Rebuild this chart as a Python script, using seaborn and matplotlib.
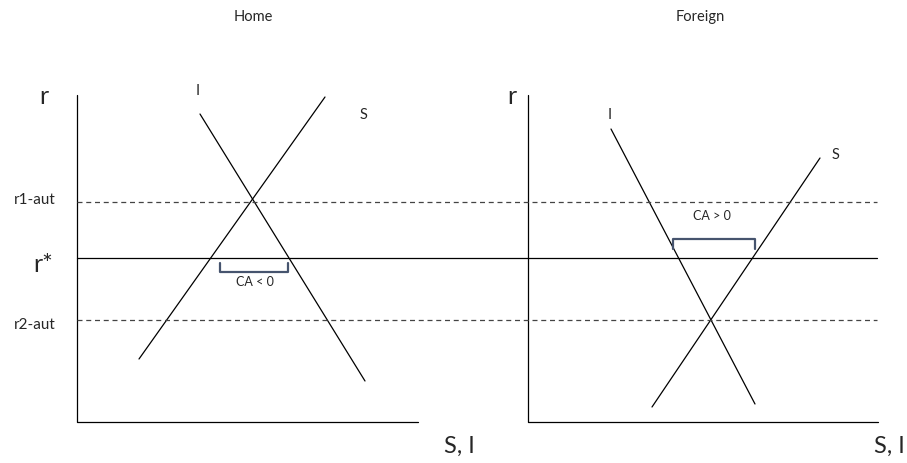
import numpy as np
import pandas as pd
import matplotlib
matplotlib.use("Agg")
import matplotlib.pyplot as plt
import seaborn as sns

# diagram coordinates (pixel space of the original picture, y grows downward)
home_axis_x = [77, 77, 418]
home_axis_y = [95, 422, 422]
foreign_axis_x = [528, 528, 878]
foreign_axis_y = [95, 422, 422]

rate_x = [77, 877]
r1_aut = 202
r_star = 258
r2_aut = 320

home_I_x = [200, 365]
home_I_y = [114, 381]
home_S_x = [139, 325]
home_S_y = [359, 97]
foreign_I_x = [611, 755]
foreign_I_y = [129, 404]
foreign_S_x = [652, 820]
foreign_S_y = [407, 158]

# CA brackets: x-span, base y, tip y
home_ca_x = [220, 288]
home_ca_y = [263, 272]
foreign_ca_x = [673, 755]
foreign_ca_y = [249, 239]

sns.set_theme(style="white")
plt.rcParams["font.family"] = ["Lato", "DejaVu Sans"]

fig = plt.figure(figsize=(9.07, 4.63), dpi=100)
ax = fig.add_axes([0, 0, 1, 1])
ax.set_xlim(0, 907)
ax.set_ylim(463, 0)
ax.axis("off")

lw = 0.9
for xs, ys in [(home_axis_x, home_axis_y), (foreign_axis_x, foreign_axis_y),
               (home_I_x, home_I_y), (home_S_x, home_S_y),
               (foreign_I_x, foreign_I_y), (foreign_S_x, foreign_S_y),
               (rate_x, [r_star, r_star])]:
    sns.lineplot(x=xs, y=ys, ax=ax, color="black", lw=lw, sort=False, estimator=None)

for yv in [r1_aut, r2_aut]:
    sns.lineplot(x=rate_x, y=[yv, yv], ax=ax, color="#444444", lw=lw,
                 sort=False, estimator=None, linestyle=(0, (4, 3)))

# brackets
br_col = "#46546e"
for (x0, x1), (yb, yt) in [(home_ca_x, home_ca_y), (foreign_ca_x, foreign_ca_y)]:
    sns.lineplot(x=[x0, x0, x1, x1], y=[yb, yt, yt, yb], ax=ax, color=br_col,
                 lw=1.6, sort=False, estimator=None)

ax.text(255, 282, "CA < 0", fontsize=9, ha="center", va="center")
ax.text(712, 216, "CA > 0", fontsize=9, ha="center", va="center")

# titles and labels
ax.text(253, 17, "Home", fontsize=10.5, ha="center", va="center")
ax.text(700, 17, "Foreign", fontsize=10.5, ha="center", va="center")
ax.text(44, 97, "r", fontsize=18, ha="center", va="center")
ax.text(512, 97, "r", fontsize=18, ha="center", va="center")
ax.text(56, 200, "r1-aut", fontsize=11, ha="right", va="center")
ax.text(56, 325, "r2-aut", fontsize=11, ha="right", va="center")
ax.text(53, 264, "r*", fontsize=18, ha="right", va="center")
ax.text(198, 91, "I", fontsize=10.5, ha="center", va="center")
ax.text(364, 115, "S", fontsize=10.5, ha="center", va="center")
ax.text(610, 115, "I", fontsize=10.5, ha="center", va="center")
ax.text(836, 155, "S", fontsize=10.5, ha="center", va="center")
ax.text(459, 446, "S, I", fontsize=17, ha="center", va="center")
ax.text(889, 446, "S, I", fontsize=17, ha="center", va="center")

fig.savefig("out.png", dpi=100)
